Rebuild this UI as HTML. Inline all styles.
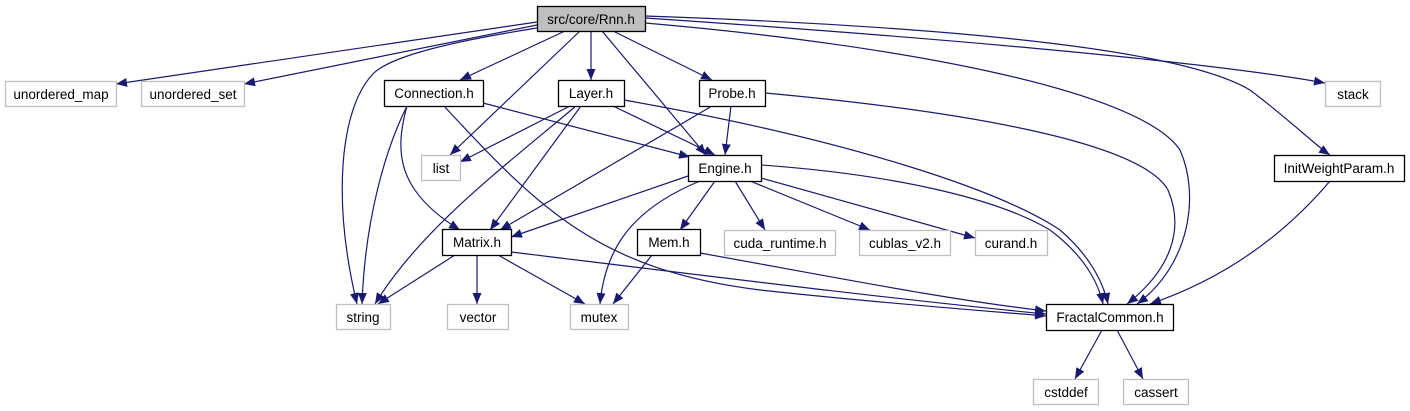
<!DOCTYPE html>
<html><head><meta charset="utf-8"><style>
html,body{margin:0;padding:0;background:#fff;}
svg{display:block;}
text{font-family:"Liberation Sans",Arial,sans-serif;font-size:13.5px;fill:#000;text-anchor:middle;}
.n{fill:#fff;stroke:#000;stroke-width:1.3;}
.g{fill:#fff;stroke:#bfbfbf;stroke-width:1.3;}
.e{fill:none;stroke:#191970;stroke-width:1.2;marker-end:url(#a);}
</style></head><body>
<svg width="1410" height="411" viewBox="0 0 1410 411" xmlns="http://www.w3.org/2000/svg">
<defs><marker id="a" markerUnits="userSpaceOnUse" markerWidth="12" markerHeight="10" refX="11" refY="4.5" orient="auto"><path d="M0,0 L11,4.5 L0,9 z" fill="#191970"/></marker></defs>
<g>
<path class="e" d="M537,22 L116,84"/>
<path class="e" d="M537,25 L244,84"/>
<path class="e" d="M565,31 L460,80"/>
<path class="e" d="M580,31 L450,155"/>
<path class="e" d="M591,31 L591,80"/>
<path class="e" d="M602,31 L706,155"/>
<path class="e" d="M613,31 L712,80"/>
<path class="e" d="M537,28 C430,45 385,60 372,75 C340,110 332,200 357,304"/>
<path class="e" d="M645,18 C900,35 1200,60 1325,83"/>
<path class="e" d="M645,16 C1050,30 1200,60 1250,90 C1290,120 1315,145 1330,155"/>
<path class="e" d="M645,23 C900,45 1140,90 1180,150 C1200,195 1190,265 1137,304"/>
<path class="e" d="M407,106 C385,150 365,220 362,304"/>
<path class="e" d="M407,106 C395,150 395,190 460,230"/>
<path class="e" d="M483,103 L690,157"/>
<path class="e" d="M444,106 C540,210 600,270 760,290 C900,305 1000,312 1046,316"/>
<path class="e" d="M570,106 L460,162"/>
<path class="e" d="M576,106 C500,170 420,230 375,304"/>
<path class="e" d="M581,106 L490,230"/>
<path class="e" d="M613,106 L715,155"/>
<path class="e" d="M624,100 C850,140 1000,190 1060,230 C1095,260 1105,290 1108,304"/>
<path class="e" d="M712,106 L500,230"/>
<path class="e" d="M731,106 L725,155"/>
<path class="e" d="M765,93 C950,110 1140,140 1168,190 C1185,230 1170,270 1127,304"/>
<path class="e" d="M688,176 L511,237"/>
<path class="e" d="M700,181 C630,210 605,250 600,304"/>
<path class="e" d="M715,181 L680,230"/>
<path class="e" d="M735,181 L765,230"/>
<path class="e" d="M750,181 L870,230"/>
<path class="e" d="M761,178 L975,238"/>
<path class="e" d="M761,165 C900,175 1000,200 1050,230 C1090,260 1100,290 1103,304"/>
<path class="e" d="M455,255 L378,304"/>
<path class="e" d="M477,255 L477,304"/>
<path class="e" d="M498,255 L585,304"/>
<path class="e" d="M511,252 C700,275 900,300 1046,314"/>
<path class="e" d="M652,255 L613,304"/>
<path class="e" d="M700,253 C850,280 950,300 1046,311"/>
<path class="e" d="M1330,181 C1280,240 1220,280 1150,304"/>
<path class="e" d="M1102,330 L1075,379"/>
<path class="e" d="M1117,330 L1143,379"/>
</g>
<g>
<rect x="537.5" y="6.5" width="108" height="25" fill="#bfbfbf" stroke="#000" stroke-width="1.3"/><text x="591" y="24">src/core/Rnn.h</text>
<rect class="g" x="5.5" y="81.5" width="111" height="25"/><text x="61" y="99">unordered_map</text>
<rect class="g" x="141.5" y="81.5" width="103" height="25"/><text x="193" y="99">unordered_set</text>
<rect class="n" x="384.5" y="80.5" width="99" height="26"/><text x="434" y="98">Connection.h</text>
<rect class="n" x="558.5" y="80.5" width="66" height="26"/><text x="591" y="98">Layer.h</text>
<rect class="n" x="699.5" y="80.5" width="66" height="26"/><text x="732" y="98">Probe.h</text>
<rect class="g" x="1325.5" y="81.5" width="55" height="25"/><text x="1353" y="99">stack</text>
<rect class="g" x="421.5" y="155.5" width="39" height="25"/><text x="441" y="173">list</text>
<rect class="n" x="688.5" y="155.5" width="73" height="26"/><text x="725" y="173">Engine.h</text>
<rect class="n" x="1274.5" y="155.5" width="130" height="26"/><text x="1339" y="173">InitWeightParam.h</text>
<rect class="n" x="442.5" y="229.5" width="69" height="26"/><text x="477" y="247">Matrix.h</text>
<rect class="n" x="637.5" y="229.5" width="63" height="26"/><text x="669" y="247">Mem.h</text>
<rect class="g" x="724.5" y="230.5" width="111" height="25"/><text x="780" y="248">cuda_runtime.h</text>
<rect class="g" x="859.5" y="230.5" width="91" height="25"/><text x="905" y="248">cublas_v2.h</text>
<rect class="g" x="975.5" y="230.5" width="72" height="25"/><text x="1011" y="248">curand.h</text>
<rect class="g" x="336.5" y="304.5" width="54" height="25"/><text x="363" y="322">string</text>
<rect class="g" x="447.5" y="304.5" width="61" height="25"/><text x="478" y="322">vector</text>
<rect class="g" x="570.5" y="304.5" width="58" height="25"/><text x="599" y="322">mutex</text>
<rect class="n" x="1046.5" y="304.5" width="127" height="26"/><text x="1110" y="322">FractalCommon.h</text>
<rect class="g" x="1033.5" y="379.5" width="65" height="25"/><text x="1066" y="397">cstddef</text>
<rect class="g" x="1123.5" y="379.5" width="65" height="25"/><text x="1156" y="397">cassert</text>
</g>
</svg>
</body></html>
